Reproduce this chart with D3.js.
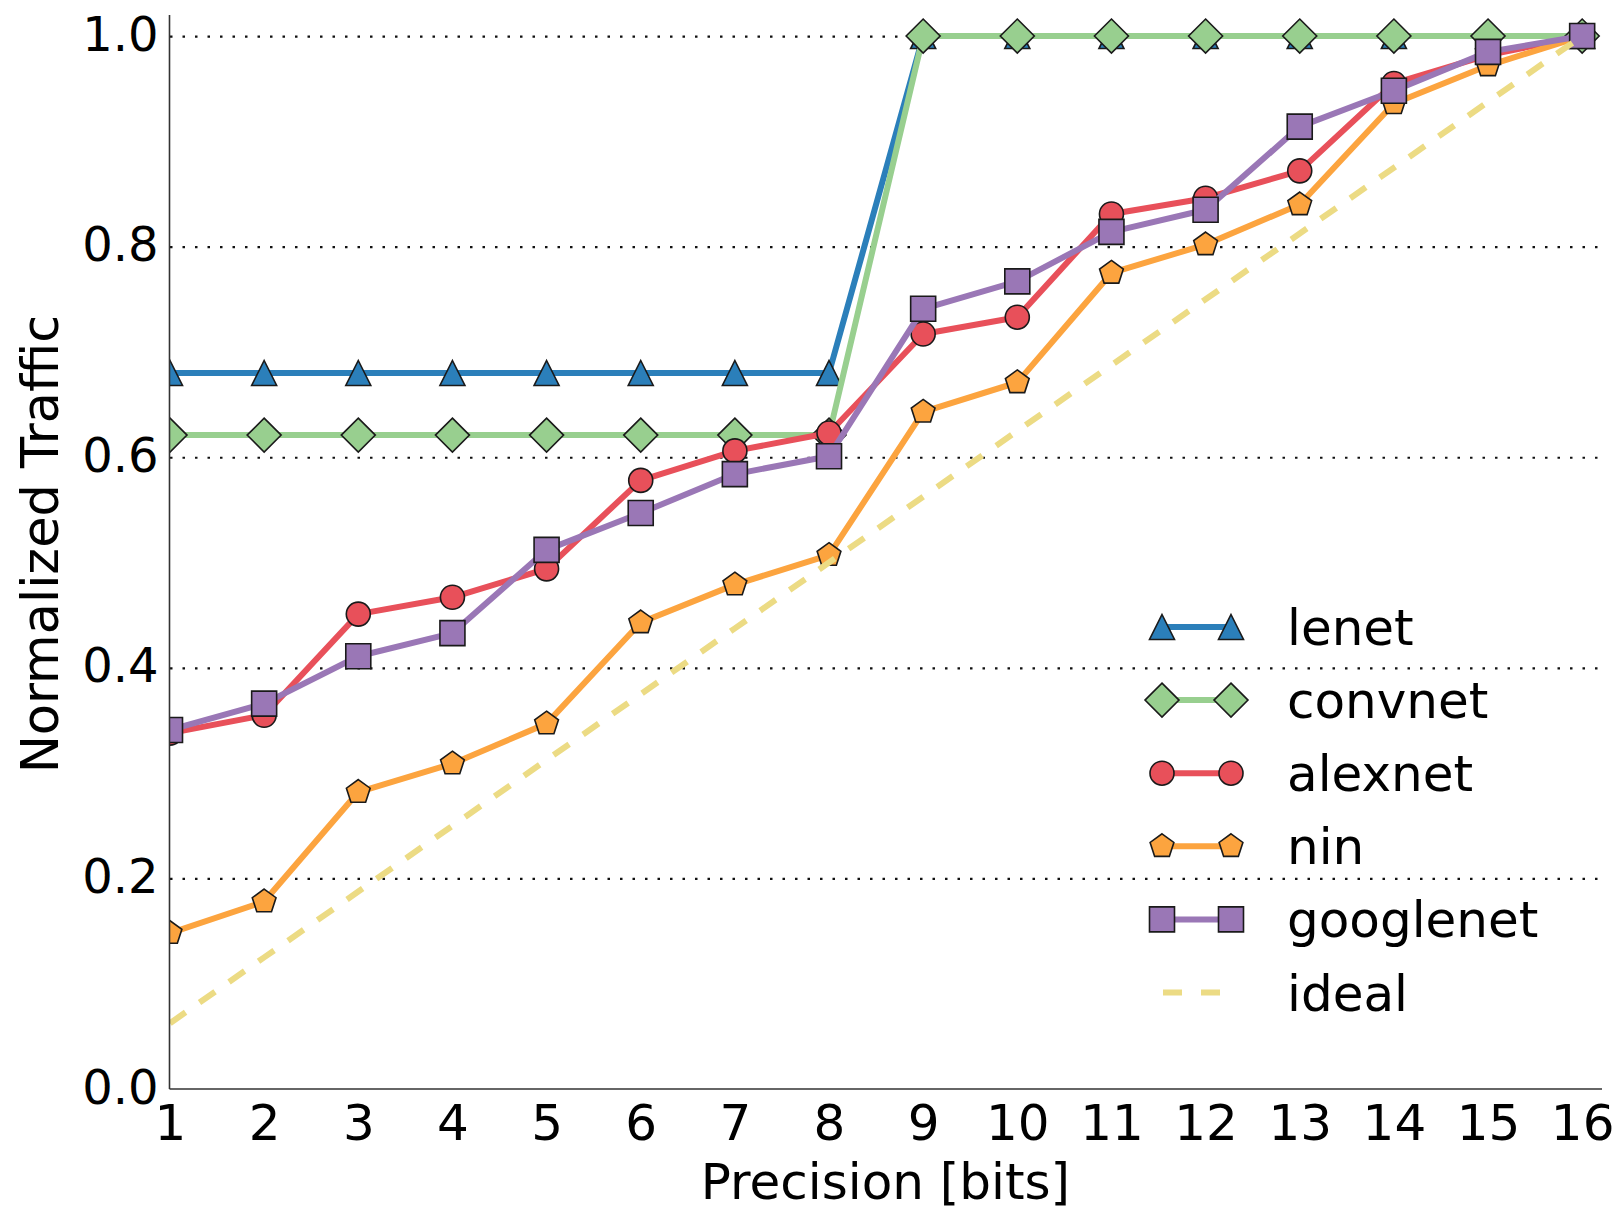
<!DOCTYPE html>
<html>
<head>
<meta charset="utf-8">
<script src="https://cdn.jsdelivr.net/npm/d3@7"></script>
<style>
  html, body { margin: 0; padding: 0; background: #fff; }
  svg { display: block; font-family: "DejaVu Sans", sans-serif; }
</style>
</head>
<body>
<svg id="chart" width="1624" height="1211"></svg>
<script>
// Precision in bits (x axis)
const bits = [1, 2, 3, 4, 5, 6, 7, 8, 9, 10, 11, 12, 13, 14, 15, 16];

// Normalized traffic per network
const lenet     = [0.680, 0.680, 0.680, 0.680, 0.680, 0.680, 0.680, 0.680, 1.0, 1.0, 1.0, 1.0, 1.0, 1.0, 1.0, 1.0];
const convnet   = [0.621, 0.621, 0.621, 0.621, 0.621, 0.621, 0.621, 0.621, 1.0, 1.0, 1.0, 1.0, 1.0, 1.0, 1.0, 1.0];
const alexnet   = [0.338, 0.355, 0.451, 0.467, 0.494, 0.578, 0.606, 0.623, 0.717, 0.733, 0.831, 0.846, 0.872, 0.955, 0.982, 1.0];
const nin       = [0.148, 0.178, 0.282, 0.309, 0.347, 0.443, 0.479, 0.507, 0.643, 0.671, 0.775, 0.802, 0.840, 0.936, 0.972, 1.0];
const googlenet = [0.341, 0.366, 0.411, 0.433, 0.512, 0.547, 0.584, 0.601, 0.741, 0.767, 0.814, 0.835, 0.914, 0.948, 0.985, 1.0];
const ideal     = [0.0625, 0.125, 0.1875, 0.25, 0.3125, 0.375, 0.4375, 0.5, 0.5625, 0.625, 0.6875, 0.75, 0.8125, 0.875, 0.9375, 1.0];

const seriesNames = ["lenet", "convnet", "alexnet", "nin", "googlenet", "ideal"];
const seriesValues = [lenet, convnet, alexnet, nin, googlenet, ideal];
const seriesColors = ["#2b7fba", "#98cf8f", "#e8505a", "#fca43f", "#9a77b6", "#ecdb84"];
const seriesMarkers = ["triangle", "diamond", "circle", "pentagon", "square", null];

const yTicks = [0.0, 0.2, 0.4, 0.6, 0.8, 1.0];
const gridTicks = [0.2, 0.4, 0.6, 0.8, 1.0];

const svg = d3.select("#chart");
const plotLeft = 170, plotRight = 1601, plotTop = 15, plotBottom = 1089;

const x = d3.scaleLinear().domain([1, 16.2]).range([plotLeft, plotRight]);
const y = d3.scaleLinear().domain([0, 1.02]).range([plotBottom, plotTop]);

// Marker shapes, centred on the origin
function markerPath(kind) {
  const p = d3.path();
  if (kind === "triangle") {
    const s = 12.5;
    p.moveTo(0, -s); p.lineTo(s, s); p.lineTo(-s, s); p.closePath();
  } else if (kind === "diamond") {
    const s = 17;
    p.moveTo(0, -s); p.lineTo(s, 0); p.lineTo(0, s); p.lineTo(-s, 0); p.closePath();
  } else if (kind === "circle") {
    p.arc(0, 0, 12, 0, 2 * Math.PI); p.closePath();
  } else if (kind === "square") {
    const s = 12.5;
    p.rect(-s, -s, 2 * s, 2 * s);
  } else if (kind === "pentagon") {
    const r = 12.5;
    for (let i = 0; i < 5; i++) {
      const a = -Math.PI / 2 + i * 2 * Math.PI / 5;
      const px = r * Math.cos(a), py = r * Math.sin(a);
      if (i === 0) p.moveTo(px, py); else p.lineTo(px, py);
    }
    p.closePath();
  }
  return p.toString();
}

// Horizontal dotted grid
const grid = svg.append("g").attr("transform", `translate(${plotLeft},0)`)
  .call(d3.axisLeft(y).tickValues(gridTicks).tickSize(-(plotRight + 1 - plotLeft)).tickFormat(""));
grid.select(".domain").remove();
grid.selectAll(".tick line")
  .attr("stroke", "#111").attr("stroke-width", 2.2)
  .attr("stroke-dasharray", "2.5,10");

// Clip region for plotted series
svg.append("defs").append("clipPath").attr("id", "plot-clip")
  .append("rect").attr("x", plotLeft).attr("y", plotTop)
  .attr("width", plotRight - plotLeft + 1).attr("height", plotBottom - plotTop);

const plot = svg.append("g").attr("clip-path", "url(#plot-clip)");

const line = d3.line().x((d, i) => x(bits[i])).y(d => y(d));

seriesValues.forEach((vals, k) => {
  const g = plot.append("g");
  g.append("path")
    .datum(vals)
    .attr("d", line)
    .attr("fill", "none")
    .attr("stroke", seriesColors[k])
    .attr("stroke-width", 6)
    .attr("stroke-linejoin", "round")
    .attr("stroke-dasharray", seriesMarkers[k] ? null : "19,17");
  if (seriesMarkers[k]) {
    g.selectAll("path.mk")
      .data(vals)
      .join("path")
      .attr("class", "mk")
      .attr("transform", (d, i) => `translate(${x(bits[i])},${y(d)})`)
      .attr("d", markerPath(seriesMarkers[k]))
      .attr("fill", seriesColors[k])
      .attr("stroke", "#1a1a1a")
      .attr("stroke-width", 1.6);
  }
});

// Axes spines (left and bottom only) with tick labels
const xAxis = svg.append("g").attr("transform", `translate(0,${plotBottom})`)
  .call(d3.axisBottom(x).tickValues(bits).tickSize(0).tickPadding(0).tickFormat(d3.format("d")));
xAxis.select(".domain").attr("d", `M${plotLeft - 0.5},0H${plotRight + 1}`).attr("stroke", "#333").attr("stroke-width", 1.6);
xAxis.selectAll(".tick text")
  .attr("y", 51).attr("dy", null)
  .attr("font-size", 50).attr("fill", "#000")
  .attr("font-family", "DejaVu Sans");

const yAxis = svg.append("g").attr("transform", `translate(${plotLeft - 0.5},0)`)
  .call(d3.axisLeft(y).tickValues(yTicks).tickSize(0).tickPadding(0).tickFormat(d3.format(".1f")));
yAxis.select(".domain").attr("d", `M0,${plotTop}V${plotBottom}`).attr("stroke", "#333").attr("stroke-width", 1.6);
yAxis.selectAll(".tick text")
  .attr("x", -11).attr("dy", null).attr("y", 14)
  .attr("font-size", 48).attr("fill", "#000")
  .attr("font-family", "DejaVu Sans");

// Axis titles
svg.append("text")
  .attr("x", (plotLeft + plotRight) / 2).attr("y", 1199)
  .attr("text-anchor", "middle").attr("font-size", 50).attr("fill", "#000")
  .text("Precision [bits]");
svg.append("text")
  .attr("transform", "translate(58,544) rotate(-90)")
  .attr("text-anchor", "middle").attr("font-size", 51).attr("fill", "#000")
  .text("Normalized Traffic");

// Legend
const legend = svg.append("g");
const legX1 = 1162, legX2 = 1231, legTextX = 1287, legY0 = 627, legStep = 73.1;
seriesNames.forEach((name, k) => {
  const ly = legY0 + k * legStep;
  const g = legend.append("g");
  if (seriesMarkers[k]) {
    g.append("line").attr("x1", legX1).attr("x2", legX2).attr("y1", ly).attr("y2", ly)
      .attr("stroke", seriesColors[k]).attr("stroke-width", 6);
    [legX1, legX2].forEach(px => {
      g.append("path").attr("transform", `translate(${px},${ly})`)
        .attr("d", markerPath(seriesMarkers[k]))
        .attr("fill", seriesColors[k]).attr("stroke", "#1a1a1a").attr("stroke-width", 1.6);
    });
  } else {
    g.append("line").attr("x1", legX1).attr("x2", legX2).attr("y1", ly).attr("y2", ly)
      .attr("stroke", seriesColors[k]).attr("stroke-width", 6)
      .attr("stroke-dasharray", "19,19").attr("stroke-dashoffset", -1);
  }
  g.append("text").attr("x", legTextX).attr("y", ly + 18)
    .attr("font-size", 50).attr("fill", "#000").text(name);
});
</script>
</body>
</html>
